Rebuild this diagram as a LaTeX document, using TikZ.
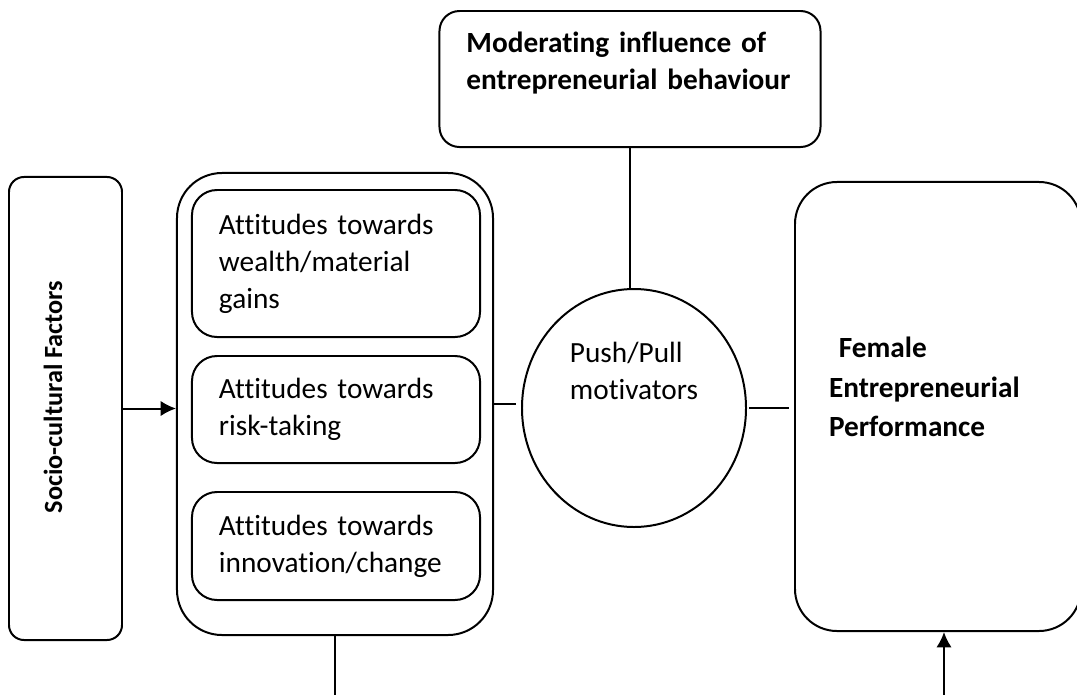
\documentclass[tikz,border=0pt]{standalone}
\usepackage{fontspec}
\setmainfont{Carlito}[Ligatures=CommonOff]
\usetikzlibrary{arrows}
\usetikzlibrary{arrows.meta}
\usetikzlibrary{shapes}

\begin{document}
\begin{tikzpicture}[x=0.015cm, y=-0.015cm, line width=0.85pt, >={Latex[length=0.23cm, width=0.23cm]},
        txt/.style={font=\fontsize{12.5}{15.8}\selectfont},
        bigtxt/.style={font=\bfseries\fontsize{12.5}{16.8}\selectfont},
        attbox/.style={draw, txt, rounded corners=0.375cm, text width=3.51cm, inner xsep=0.405cm, inner ysep=0pt, align=left}]
        \useasboundingbox (0, 0) rectangle (1077, 695);

        \draw (65.5, 408.5) node[draw, rounded corners=0.225cm, minimum width=1.695cm, minimum height=6.945cm] (socio) {};
        \draw (53, 397) node[rotate=90, font=\bfseries\fontsize{11.2}{14}\selectfont] (sociotext) {Socio-cultural Factors};

        \draw (335, 404) node[draw, rounded corners=0.675cm, minimum width=4.74cm, minimum height=6.93cm] (att) {};
        \draw (336, 263.5) node[attbox, minimum height=2.205cm] (wealth) {Attitudes towards\\wealth/material\\gains};
        \draw (336, 409.5) node[attbox, minimum height=1.605cm] (risk) {Attitudes towards\\risk-taking};
        \draw (336, 546) node[attbox, minimum height=1.62cm] (innov) {Attitudes towards\\innovation/change};

        \draw (630, 79) node[draw, rounded corners=0.3cm, minimum width=5.715cm, minimum height=2.04cm, text width=4.905cm, inner xsep=0.405cm, align=left, font=\bfseries\fontsize{12.5}{15.8}\selectfont] (moder) {Moderating influence of\\entrepreneurial behaviour\\\mbox{}};

        \draw (634, 408) node[draw, ellipse, inner sep=0pt, minimum width=3.36cm, minimum height=3.57cm, align=left, txt] (push) {Push/Pull\\motivators\\\mbox{}\\\mbox{}};

        \draw (938, 406.5) node[draw, rounded corners=0.63cm, minimum width=4.29cm, minimum height=6.735cm, text width=3.27cm, inner xsep=0.51cm, align=left, bigtxt] (perf) {~Female\\Entrepreneurial\\Performance\\\mbox{}};

        \coordinate (attfoot) at (335, 695);
        \coordinate (perffoot) at (944, 695);

        \draw[->] (socio.east) -- (socio.east -| att.west);
        \draw[shorten >=0.075cm] (att.east) -- (att.east -| push.west);
        \draw[shorten <=0.03cm, shorten >=0.075cm] (push.east) -- (push.east -| perf.west);
        \draw (moder.south) -- (moder.south |- push.north);
        \draw (att.south) -- (attfoot);
        \draw[->] (perffoot) -- (perffoot |- perf.south);
    \end{tikzpicture}
\end{document}
